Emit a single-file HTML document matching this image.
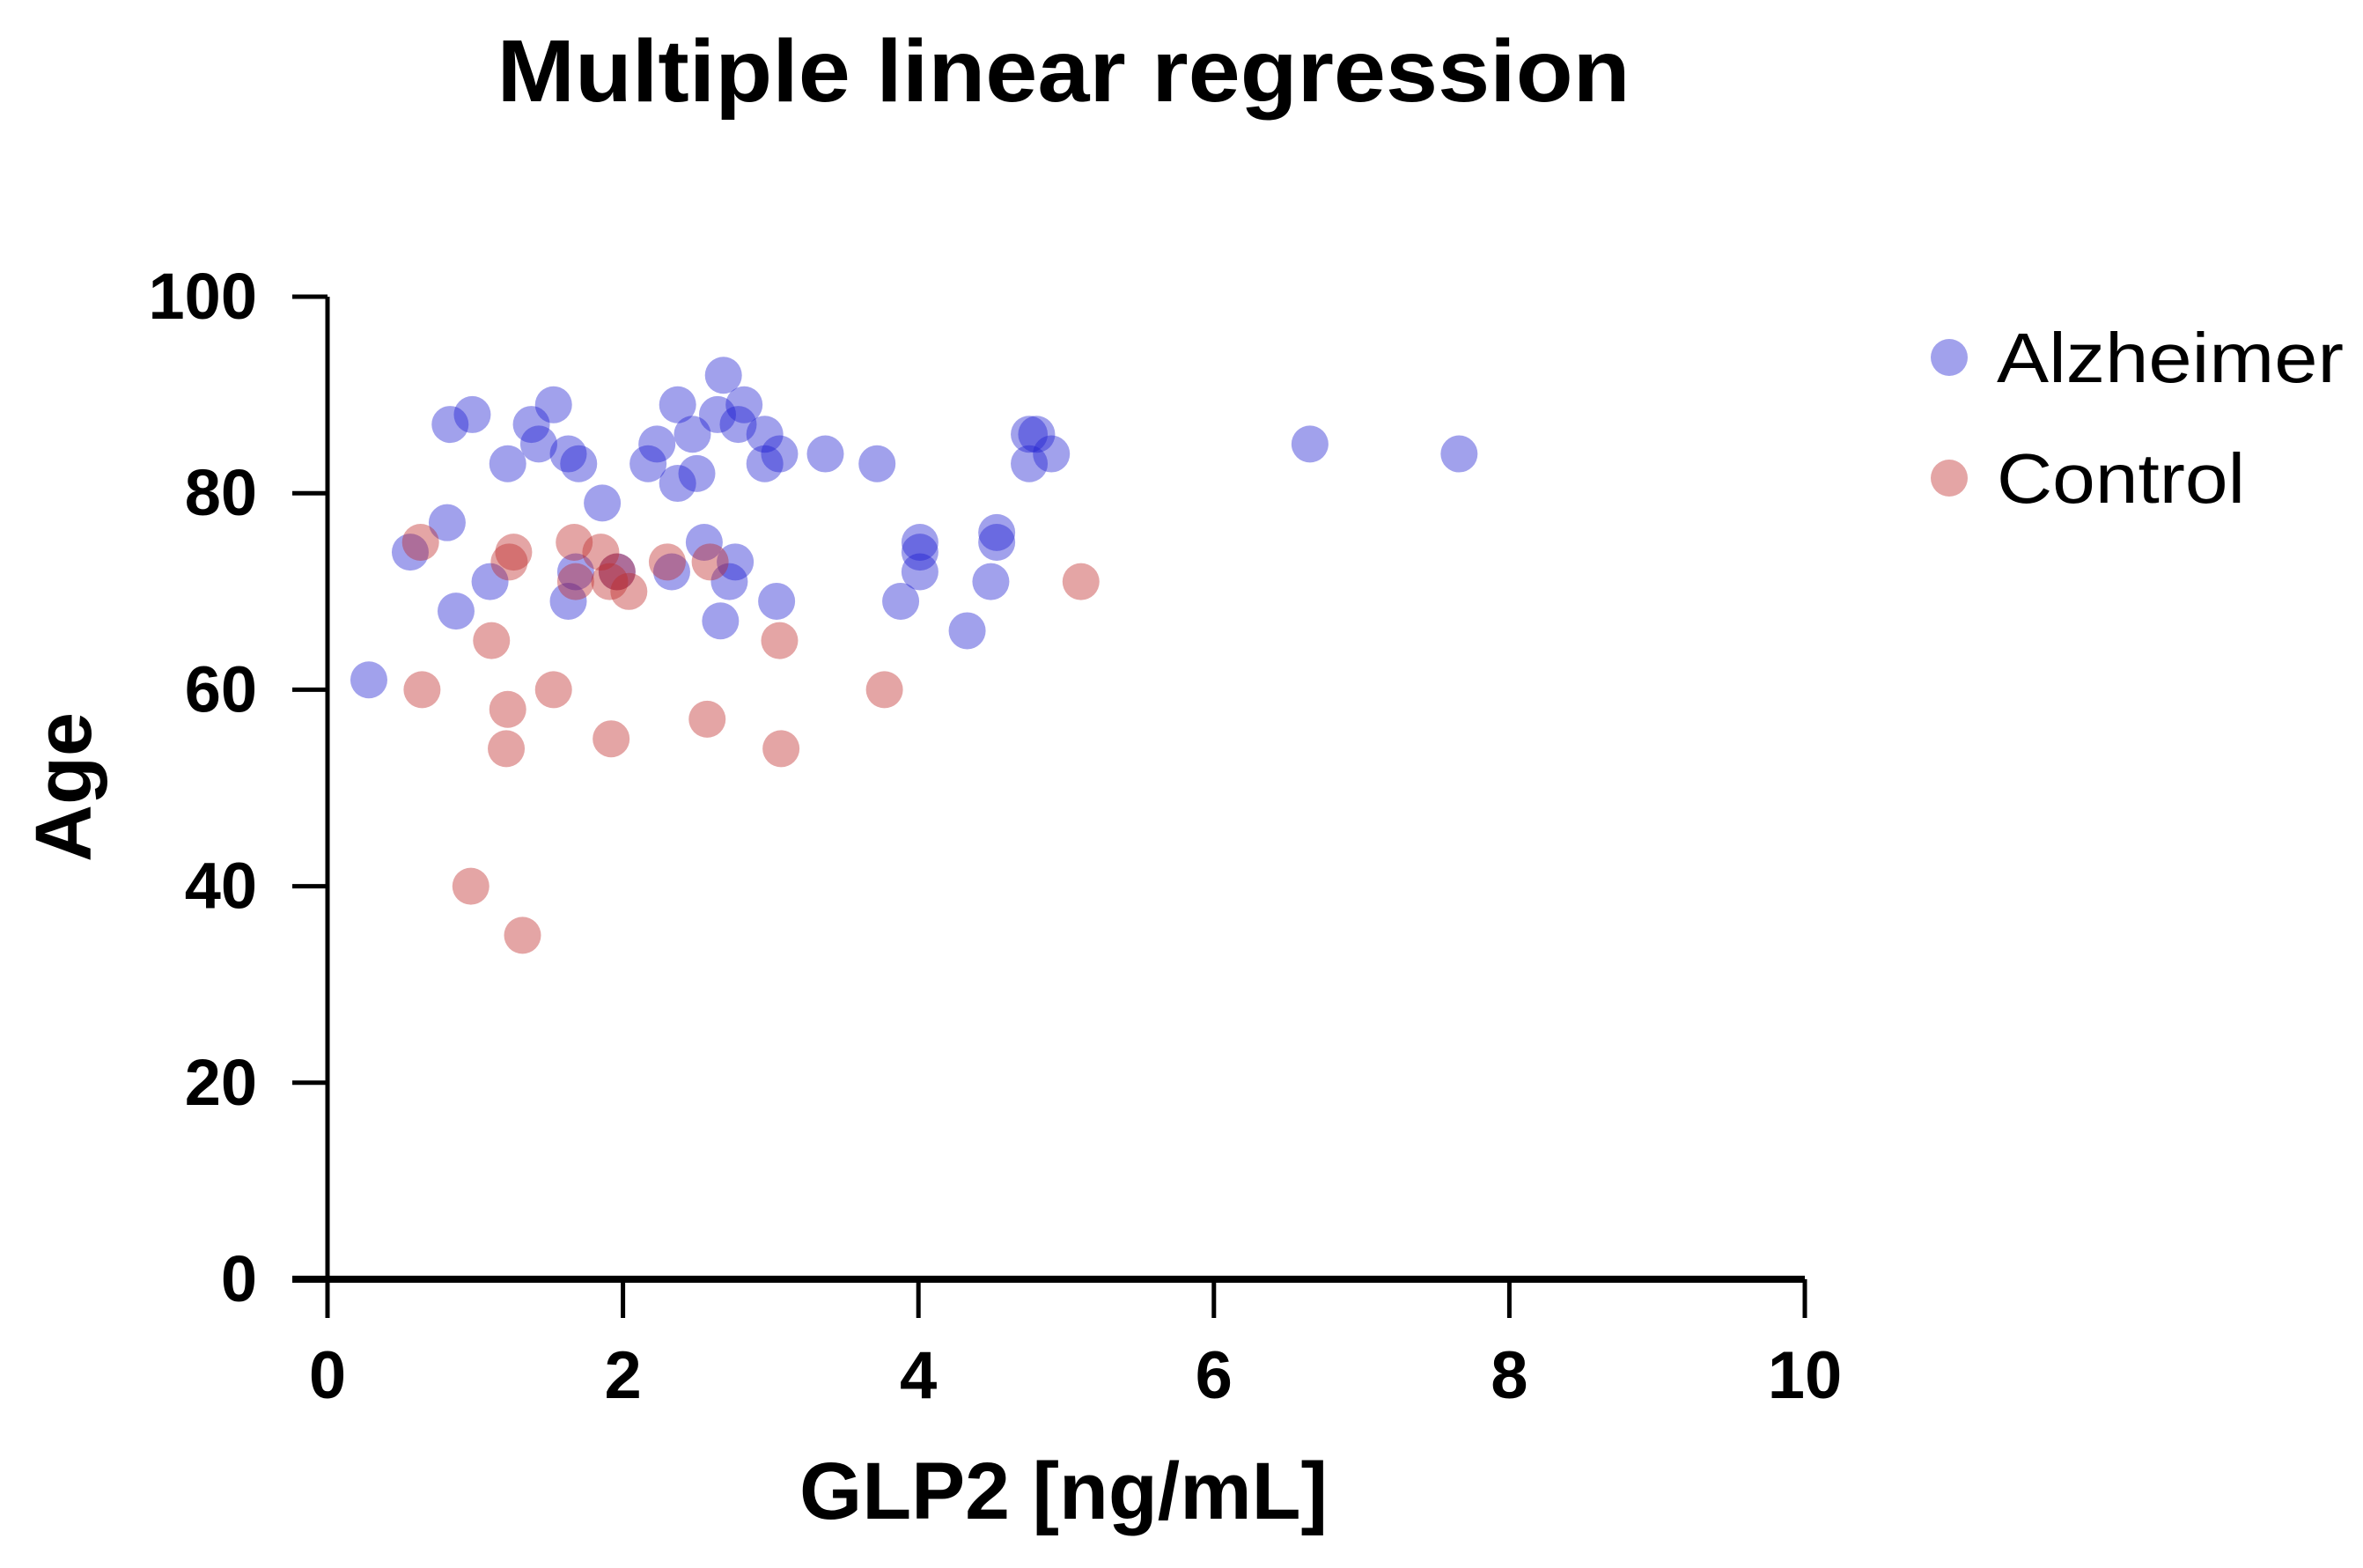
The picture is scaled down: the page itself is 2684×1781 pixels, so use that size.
<!DOCTYPE html>
<html><head><meta charset="utf-8"><style>
html,body{margin:0;padding:0;background:#fff;}
svg{display:block;font-family:"Liberation Sans",Arial,sans-serif;}
</style></head><body>
<svg id="chart" width="2684" height="1781" viewBox="0 0 2684 1781">
<text x="1208" y="115" text-anchor="middle" font-size="100" font-weight="bold" textLength="1287" lengthAdjust="spacingAndGlyphs">Multiple linear regression</text>
<g id="axes"></g>
<g id="points"></g>
<text transform="translate(103,894) rotate(-90)" text-anchor="middle" font-size="90" font-weight="bold">Age</text>
<text x="1208" y="1725" text-anchor="middle" font-size="92" font-weight="bold" textLength="600" lengthAdjust="spacingAndGlyphs">GLP2 [ng/mL]</text>
<g>
<circle cx="2214" cy="406" r="21" fill="rgba(30,30,210,0.42)"/>
<text x="2268" y="434" font-size="80" textLength="394" lengthAdjust="spacingAndGlyphs">Alzheimer</text>
<circle cx="2214" cy="543" r="21" fill="rgba(190,40,40,0.42)"/>
<text x="2268" y="571" font-size="80" textLength="282" lengthAdjust="spacingAndGlyphs">Control</text>
</g>
</svg>
<script>
const xTicks = [0, 2, 4, 6, 8, 10];
const yTicks = [0, 20, 40, 60, 80, 100];
const alzX = [0.28,0.56,0.81,0.87,0.83,0.98,1.1,1.22,1.38,1.43,1.53,1.63,1.7,1.63,1.68,1.86,1.96,2.17,2.23,2.37,2.37,2.47,2.5,2.33,2.55,2.68,2.64,2.78,2.82,2.96,2.96,3.06,2.76,2.72,2.66,3.04,3.37,3.72,3.88,4.01,4.01,4.01,4.33,4.49,4.53,4.53,4.75,4.8,4.75,4.9,6.65,7.66];
const alzY = [61,74,77,68,87,88,71,83,87,85,89,84,83,69,72,79,72,83,85,89,81,86,82,72,75,92,88,87,89,86,83,84,73,71,67,69,84,83,69,75,74,72,66,71,76,75,86,86,83,84,85,84];
const ctlX = [0.63,0.64,1.11,1.26,1.23,1.22,1.21,0.97,1.32,1.53,1.67,1.68,1.85,1.91,1.96,2.04,1.92,2.3,2.57,2.59,3.06,3.07,3.77,5.1];
const ctlY = [75,60,65,74,73,58,54,40,35,60,75,71,74,71,72,70,55,73,57,73,65,54,60,71];

const X0 = 372, X1 = 2050, Y0 = 1453, Y1 = 337;
function sx(v){ return X0 + (v - 0) / 10 * (X1 - X0); }
function sy(v){ return Y0 - (v - 0) / 100 * (Y0 - Y1); }
const NS = "http://www.w3.org/2000/svg";
function mk(tag, attrs, parent){ const e = document.createElementNS(NS, tag); for (const k in attrs) e.setAttribute(k, attrs[k]); parent.appendChild(e); return e; }

const axes = document.getElementById('axes');
let l = mk('line', {x1:X0, y1:sy(100), x2:X0, y2:sy(0)+44, stroke:'#000', 'stroke-width':5}, axes);


l = mk('line', {x1:X0-40, y1:Y0, x2:X1, y2:Y0, stroke:'#000', 'stroke-width':8}, axes);


yTicks.forEach(v => {
  const t = mk('line', {x1:X0-40, y1:sy(v), x2:X0, y2:sy(v), stroke:'#000', 'stroke-width':5}, axes);
  
  
  const tx = mk('text', {x:292, y:sy(v)+25, 'text-anchor':'end', 'font-size':74, 'font-weight':'bold'}, axes);
  tx.textContent = v;
  
  
});
xTicks.forEach(v => {
  const t = mk('line', {x1:sx(v), y1:Y0, x2:sx(v), y2:Y0+44, stroke:'#000', 'stroke-width':5}, axes);
  
  
  const tx = mk('text', {x:sx(v), y:1588, 'text-anchor':'middle', 'font-size':76, 'font-weight':'bold'}, axes);
  tx.textContent = v;
  
  
});

const pts = document.getElementById('points');
alzX.forEach((v, i) => {
  const c = mk('circle', {cx:sx(v), cy:sy(alzY[i]), r:21, fill:'rgba(30,30,210,0.42)'}, pts);
  
  
});
ctlX.forEach((v, i) => {
  const c = mk('circle', {cx:sx(v), cy:sy(ctlY[i]), r:21, fill:'rgba(190,40,40,0.42)'}, pts);
  
  
});
</script>
</body></html>
